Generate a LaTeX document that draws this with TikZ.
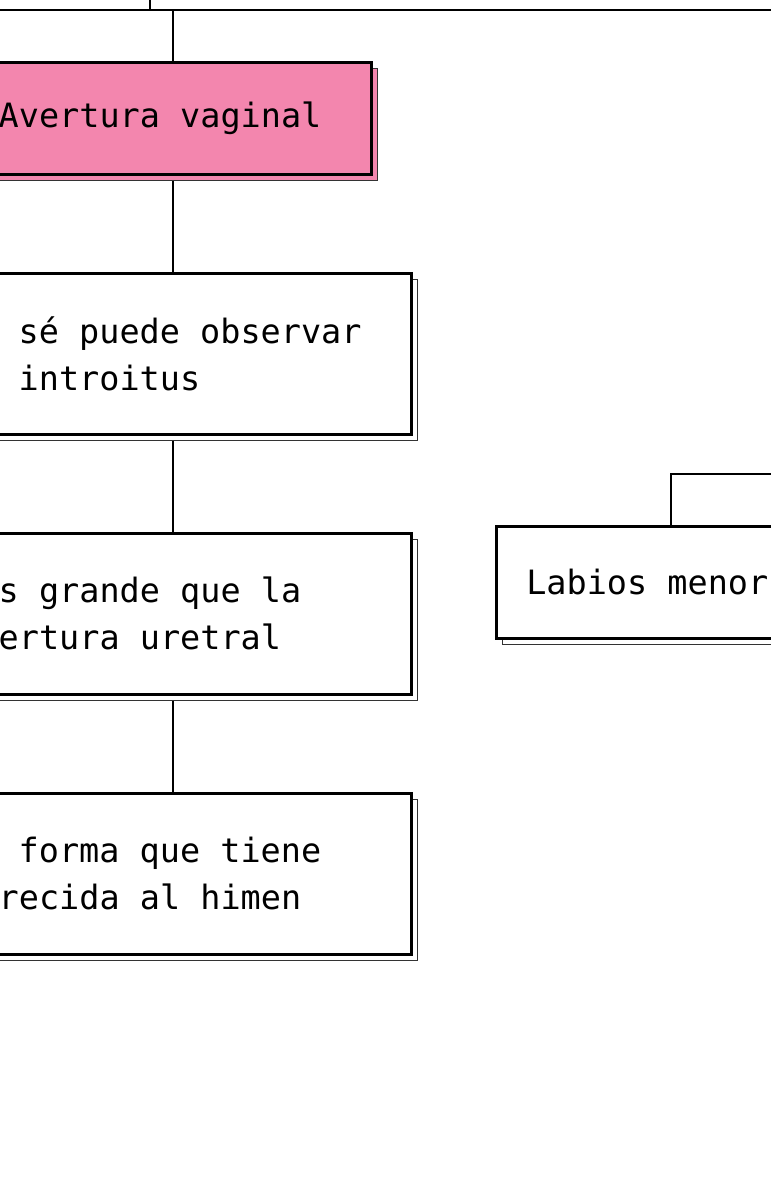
\documentclass[tikz,border=0pt]{standalone}
\usepackage{fontspec}
\usetikzlibrary{shadows,backgrounds}
\newfontfamily\mapfont{DejaVu Sans Mono}
\newcommand\cajafont{\mapfont\fontsize{33.5}{47}\selectfont\spaceskip=20.17pt\relax}
\definecolor{rosa}{HTML}{F386AE}
\tikzset{
  caja/.style={draw=black, line width=2.6pt, fill=white, rectangle, inner ysep=0pt,
    align=flush left, anchor=north east, font=\cajafont,
    copy shadow={shadow xshift=6pt, shadow yshift=-6pt, draw=black!80, line width=1.2pt}},
  rama/.style={line width=1.3pt},
}
\begin{document}
\begin{tikzpicture}[x=1pt,y=-1pt]
    \useasboundingbox (0,0) rectangle (771,1186);
    \clip (0,0) rectangle (771,1186);
    \node[caja, fill=rosa, minimum height=112pt, inner xsep=20pt, text width=353pt] (avertura) at (373,61) {Avertura vaginal};
    \node[caja, minimum height=161pt, inner xsep=30pt, text width=383pt] (introito) at (413,272) {\hspace*{20pt}sé puede observar\\\hspace*{20pt}introitus};
    \node[caja, minimum height=161pt, inner xsep=30pt, text width=383pt] (tamano) at (413,532) {s grande que la\\ertura uretral};
    \node[caja, minimum height=161pt, inner xsep=30pt, text width=383pt] (forma) at (413,792) {\hspace*{20pt}forma que tiene\\recida al himen};
    \node[caja, anchor=north west, minimum height=112pt, inner xsep=30pt, text width=292pt] (labios) at (495,525) {Labios menor};
    \begin{pgfonlayer}{background}
        \coordinate (bus) at (173,10);
        \coordinate (codo) at (671,474);
        \draw[line width=2pt] (0,10) -- (771,10);
        \draw[line width=2pt] (150,0) -- (150,10);
        \draw[rama] (bus) -- (bus |- avertura.north);
        \draw[rama] (bus |- avertura.south) -- (bus |- introito.north);
        \draw[rama] (bus |- introito.south) -- (bus |- tamano.north);
        \draw[rama] (bus |- tamano.south) -- (bus |- forma.north);
        \draw[rama] (codo |- labios.north) -- (codo) -- (771,474);
    \end{pgfonlayer}
\end{tikzpicture}
\end{document}
